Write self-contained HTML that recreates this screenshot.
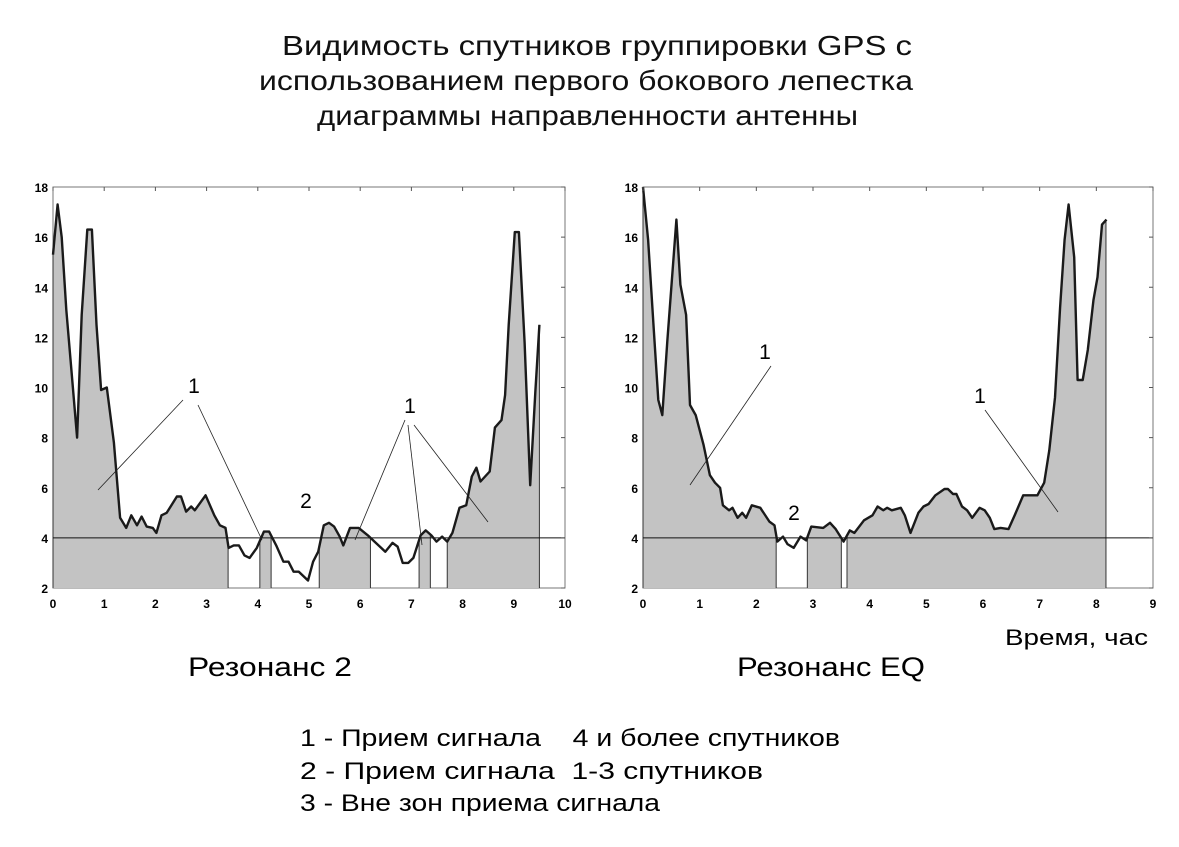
<!DOCTYPE html>
<html><head><meta charset="utf-8">
<style>
html,body{margin:0;padding:0;background:#fff;}
body{width:1179px;height:847px;overflow:hidden;position:relative;font-family:"Liberation Sans",sans-serif;}
svg{position:absolute;left:0;top:0;}
</style></head>
<body>
<svg id="chart" width="1179" height="847" viewBox="0 0 1179 847" font-family="Liberation Sans, sans-serif">
<g font-size="28" fill="#111">
<text x="282" y="55" textLength="630" lengthAdjust="spacingAndGlyphs">Видимость спутников группировки GPS с</text>
<text x="259" y="90" textLength="654" lengthAdjust="spacingAndGlyphs">использованием первого бокового лепестка</text>
<text x="317" y="125" textLength="541" lengthAdjust="spacingAndGlyphs">диаграммы направленности антенны</text>
</g>
<text x="188" y="676" font-size="27" textLength="164" lengthAdjust="spacingAndGlyphs">Резонанс 2</text>
<text x="737" y="676" font-size="27" textLength="188" lengthAdjust="spacingAndGlyphs">Резонанс EQ</text>
<text x="1005" y="645" font-size="22" textLength="143" lengthAdjust="spacingAndGlyphs">Время, час</text>
<g font-size="24">
<text x="300" y="746" xml:space="preserve" textLength="540" lengthAdjust="spacingAndGlyphs">1 - Прием сигнала    4 и более спутников</text>
<text x="300" y="779" xml:space="preserve" textLength="463" lengthAdjust="spacingAndGlyphs">2 - Прием сигнала  1-3 спутников</text>
<text x="300" y="811" textLength="360" lengthAdjust="spacingAndGlyphs">3 - Вне зон приема сигнала</text>
</g>
<g id="left"></g>
<g id="right"></g>
</svg>
<script>
// Left chart data (Резонанс 2)
const leftX=[0,0.09,0.17,0.26,0.36,0.47,0.56,0.67,0.76,0.85,0.94,1.05,1.19,1.31,1.43,1.53,1.64,1.73,1.83,1.95,2.02,2.12,2.22,2.42,2.5,2.6,2.7,2.77,2.98,3.15,3.26,3.37,3.43,3.53,3.63,3.74,3.84,3.98,4.12,4.22,4.36,4.5,4.6,4.7,4.8,4.98,5.08,5.18,5.29,5.39,5.49,5.6,5.67,5.8,5.97,6.15,6.28,6.49,6.63,6.73,6.83,6.94,7.04,7.18,7.28,7.39,7.49,7.6,7.7,7.8,7.94,8.07,8.18,8.27,8.35,8.53,8.63,8.76,8.83,8.9,9.02,9.1,9.21,9.32,9.42,9.5];
const leftY=[15.3,17.3,16.0,13.1,10.7,8.0,12.9,16.3,16.3,12.5,9.9,10.0,7.8,4.8,4.4,4.9,4.5,4.85,4.45,4.4,4.2,4.9,5.0,5.65,5.65,5.05,5.25,5.1,5.7,4.9,4.5,4.4,3.6,3.7,3.7,3.3,3.2,3.6,4.25,4.25,3.7,3.05,3.05,2.65,2.65,2.3,3.05,3.45,4.5,4.6,4.45,4.05,3.7,4.4,4.4,4.1,3.85,3.45,3.8,3.65,3.0,3.0,3.2,4.1,4.3,4.1,3.85,4.05,3.85,4.2,5.2,5.3,6.45,6.8,6.25,6.65,8.4,8.7,9.7,12.5,16.2,16.2,11.8,6.1,9.8,12.5];
const leftZoneStart=[0,4.04,5.2,7.15,7.7];
const leftZoneEnd=[3.42,4.26,6.2,7.37,9.5];
const leftXTicks=[0,1,2,3,4,5,6,7,8,9,10];
// Right chart data (Резонанс EQ)
const rightX=[0,0.09,0.19,0.27,0.34,0.43,0.59,0.66,0.76,0.83,0.93,1.07,1.18,1.27,1.36,1.41,1.52,1.58,1.67,1.75,1.82,1.92,2.07,2.23,2.32,2.37,2.47,2.55,2.66,2.78,2.88,2.97,3.18,3.3,3.4,3.54,3.65,3.73,3.9,4.05,4.14,4.24,4.31,4.39,4.55,4.62,4.72,4.86,4.95,5.04,5.16,5.32,5.38,5.47,5.53,5.63,5.72,5.81,5.94,6.03,6.12,6.2,6.31,6.45,6.56,6.71,6.96,7.08,7.17,7.27,7.36,7.44,7.51,7.61,7.67,7.76,7.85,7.95,8.02,8.1,8.18];
const rightY=[18,15.9,12.3,9.5,8.9,11.9,16.7,14.1,12.9,9.3,8.9,7.7,6.5,6.2,6.0,5.3,5.1,5.2,4.8,5.0,4.8,5.3,5.2,4.65,4.5,3.85,4.05,3.75,3.6,4.05,3.9,4.45,4.4,4.6,4.35,3.85,4.3,4.2,4.7,4.9,5.25,5.1,5.2,5.1,5.2,4.9,4.2,5.0,5.25,5.35,5.7,5.95,5.95,5.75,5.75,5.25,5.1,4.8,5.2,5.1,4.8,4.35,4.4,4.35,4.9,5.7,5.7,6.2,7.5,9.6,13.2,15.9,17.3,15.2,10.3,10.3,11.5,13.5,14.4,16.5,16.7];
const rightZoneStart=[0,2.9,3.6];
const rightZoneEnd=[2.35,3.5,8.17];
const rightXTicks=[0,1,2,3,4,5,6,7,8,9];
const yTicks=[2,4,6,8,10,12,14,16,18];
const threshold=4;

const NS="http://www.w3.org/2000/svg";
function mk(tag,attrs,parent){const e=document.createElementNS(NS,tag);for(const k in attrs)e.setAttribute(k,attrs[k]);parent.appendChild(e);return e;}

function drawChart(g,id,x0,x1,xmax,xs,ys,zs,ze,xt,annots){
  const y0=588,y1=187,ymin=2,ymax=18;
  const sx=v=>x0+(v/xmax)*(x1-x0);
  const sy=v=>y0-(v-ymin)/(ymax-ymin)*(y0-y1);
  const frame=mk('rect',{x:x0,y:y1,width:x1-x0,height:y0-y1,fill:'#fff',stroke:'#777','stroke-width':1},g);
  
  
  const defs=mk('defs',{},g);
  const cp=mk('clipPath',{id:id+'-clip'},defs);
  for(let i=0;i<zs.length;i++){
    mk('rect',{x:sx(zs[i]),y:y1,width:sx(ze[i])-sx(zs[i]),height:y0-y1},cp);
  }
  let d='M'+sx(xs[0])+','+y0;
  for(let i=0;i<xs.length;i++) d+=' L'+sx(xs[i]).toFixed(1)+','+sy(ys[i]).toFixed(1);
  d+=' L'+sx(xs[xs.length-1])+','+y0+' Z';
  const area=mk('path',{d:d,fill:'#c3c3c3','clip-path':'url(#'+id+'-clip)'},g);
  
  
  for(let i=0;i<zs.length;i++){
    for(const v of [zs[i],ze[i]]){
      let yy=ys[0];
      for(let j=0;j<xs.length-1;j++){if(v>=xs[j]&&v<=xs[j+1]){const t=(v-xs[j])/((xs[j+1]-xs[j])||1);yy=ys[j]+t*(ys[j+1]-ys[j]);}}
      if(v>=xs[xs.length-1])yy=ys[ys.length-1];
      const ln=mk('line',{x1:sx(v),x2:sx(v),y1:y0,y2:sy(yy),stroke:'#333','stroke-width':1},g);
      
      
    }
  }
  const th=mk('line',{x1:x0,x2:x1,y1:sy(threshold),y2:sy(threshold),stroke:'#111','stroke-width':1},g);
  
  
  let ld='';
  for(let i=0;i<xs.length;i++) ld+=(i?' L':'M')+sx(xs[i]).toFixed(1)+','+sy(ys[i]).toFixed(1);
  const line=mk('path',{d:ld,fill:'none',stroke:'#1a1a1a','stroke-width':2.4,'stroke-linejoin':'round'},g);
  
  
  for(const t of xt){
    const tl=mk('line',{x1:sx(t),x2:sx(t),y1:y1,y2:y1+4,stroke:'#555'},g);
    
    
    const tx=mk('text',{x:sx(t),y:608,'font-size':12,'font-weight':'bold','text-anchor':'middle'},g);
    tx.textContent=t;
    
    
  }
  for(const t of yTicks){
    const tl=mk('line',{x1:x1-4,x2:x1,y1:sy(t),y2:sy(t),stroke:'#555'},g);
    
    
    const tx=mk('text',{x:x0-5,y:sy(t)+5,'font-size':12,'font-weight':'bold','text-anchor':'end'},g);
    tx.textContent=t;
    
    
  }
  for(const a of annots){
    if(a.t){const tx=mk('text',{x:a.x,y:a.y,'font-size':21,'text-anchor':'middle'},g);tx.textContent=a.t;
      
      }
    else{const l=mk('line',{x1:a.x1,y1:a.y1,x2:a.x2,y2:a.y2,stroke:'#222','stroke-width':0.8},g);
      
      }
  }
}
const L=document.getElementById('left');


drawChart(L,'l',53,565,10,leftX,leftY,leftZoneStart,leftZoneEnd,leftXTicks,[
 {t:'1',x:194,y:393},{x1:183,y1:400,x2:98,y2:490},{x1:198,y1:405,x2:262,y2:540},
 {t:'1',x:410,y:413},{x1:405,y1:420,x2:355,y2:540},{x1:408,y1:425,x2:422,y2:545},{x1:414,y1:425,x2:488,y2:522},
 {t:'2',x:306,y:508}]);
const R=document.getElementById('right');


drawChart(R,'r',643,1153,9,rightX,rightY,rightZoneStart,rightZoneEnd,rightXTicks,[
 {t:'1',x:765,y:359},{x1:771,y1:366,x2:690,y2:485},
 {t:'1',x:980,y:403},{x1:985,y1:410,x2:1058,y2:512},
 {t:'2',x:794,y:520}]);
</script>
</body></html>
